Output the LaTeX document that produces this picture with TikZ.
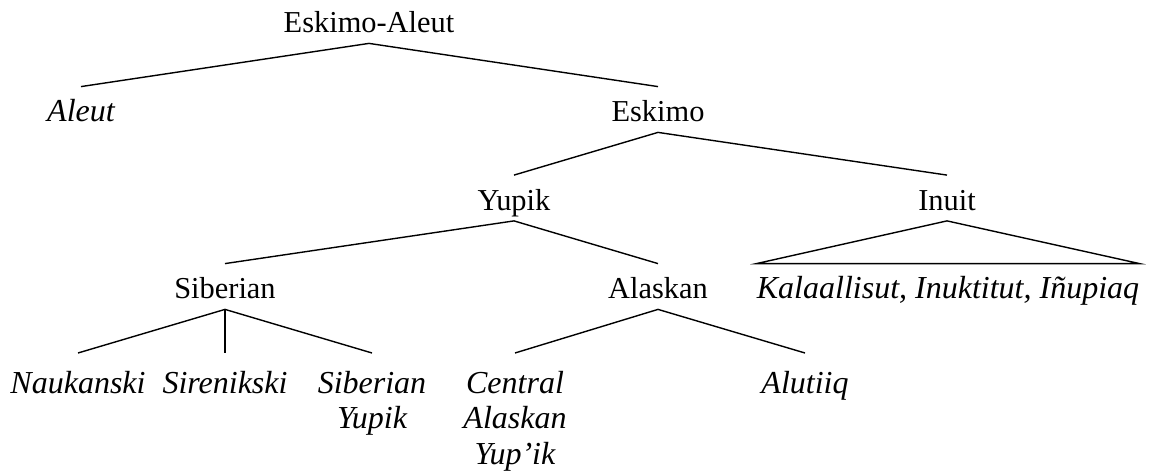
\documentclass[tikz,border=0pt]{standalone}
\usepackage{fontspec}
\setmainfont{Liberation Serif}
\begin{document}
\begin{tikzpicture}[x=0.5pt,y=-0.5pt,
  every node/.style={inner xsep=0pt},
  inner/.style={anchor=base, font=\fontsize{15.2}{17}\selectfont,
    text height=14pt, text depth=1.5pt, inner ysep=3.5pt},
  innerit/.style={inner, font=\fontsize{16}{17}\selectfont\itshape},
  leaf/.style={anchor=north, align=center, inner ysep=9pt,
    font=\fontsize{16}{17}\selectfont\itshape},
  branch/.style={line width=0.7pt, line join=miter}]
\useasboundingbox (0,0) rectangle (1153,475);
% internal nodes
\node[inner] (ea) at (369,33) {Eskimo-Aleut};
\node[innerit] (aleut) at (81,122) {Aleut};
\node[inner] (esk) at (658,122) {Eskimo};
\node[inner] (yupik) at (514,210.5) {Yupik};
\node[inner] (inuit) at (947,210.5) {Inuit};
\node[inner] (sib) at (225,299) {Siberian};
\node[inner] (ala) at (658,299) {Alaskan};
\node[innerit] (kal) at (948,299) {Kalaallisut, Inuktitut, Iñupiaq};
% leaves
\node[leaf] (nau) at (78,353) {Naukanski};
\node[leaf] (sir) at (225,353) {Sirenikski};
\node[leaf] (sy) at (372,353) {Siberian\\[0.6pt]Yupik};
\node[leaf] (cay) at (515,353) {Central\\[0.6pt]Alaskan\\[0.6pt]Yup’ik};
\node[leaf] (alu) at (805,353) {Alutiiq};
% connectors
\draw[branch] (aleut.north) -- (ea.south) -- (esk.north);
\draw[branch] (yupik.north) -- (esk.south) -- (inuit.north);
\draw[branch] (sib.north) -- (yupik.south) -- (ala.north);
\draw[branch] (kal.north west) -- (inuit.south) -- (kal.north east) -- cycle;
\draw[branch] (nau.north) -- (sib.south) -- (sy.north);
\draw[branch] (sib.south) -- (sir.north);
\draw[branch] (cay.north) -- (ala.south) -- (alu.north);
\end{tikzpicture}
\end{document}
